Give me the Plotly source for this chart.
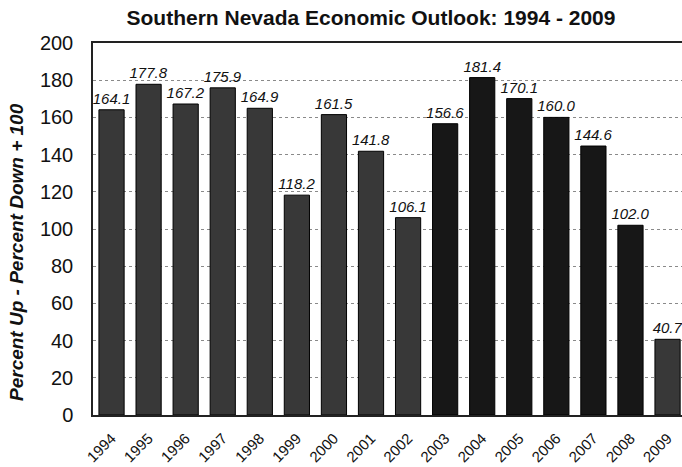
import plotly.graph_objects as go

# Survey index by year (percent up - percent down + 100)
years = ["1994", "1995", "1996", "1997", "1998", "1999", "2000", "2001",
         "2002", "2003", "2004", "2005", "2006", "2007", "2008", "2009"]
index_values = [164.1, 177.8, 167.2, 175.9, 164.9, 118.2, 161.5, 141.8,
                106.1, 156.6, 181.4, 170.1, 160.0, 144.6, 102.0, 40.7]
y_ticks = [0, 20, 40, 60, 80, 100, 120, 140, 160, 180, 200]

bar_colors = ["#383838"] * 9 + ["#171717"] * 6 + ["#383838"]

fig = go.Figure()
fig.add_trace(go.Bar(
    x=years,
    y=index_values,
    marker=dict(color=bar_colors, line=dict(color="#000000", width=1)),
    text=[f"{v:.1f}" for v in index_values],
    textposition="outside",
    constraintext="none",
    textfont=dict(family="Arial, Liberation Sans, sans-serif", size=15,
                  color="#111111", style="italic"),
    cliponaxis=False,
    width=0.68,
))

fig.add_annotation(
    text="<b><i>Percent Up - Percent Down + 100</i></b>",
    xref="paper", yref="paper",
    x=-76 / 589, y=(415 - 252) / 372,
    xanchor="center", yanchor="middle",
    textangle=-90, showarrow=False,
    font=dict(size=19, family="Arial, Liberation Sans, sans-serif", color="#111111"),
)

fig.update_layout(
    width=682,
    height=467,
    margin=dict(l=93, r=0, t=43, b=52, autoexpand=False),
    paper_bgcolor="white",
    plot_bgcolor="white",
    showlegend=False,
    font=dict(family="Arial, Liberation Sans, sans-serif", color="#111111"),
    title=dict(
        text="<b>Southern Nevada Economic Outlook: 1994 - 2009</b>",
        x=371 / 682, xanchor="center", y=1 - 18 / 467, yanchor="middle",
        font=dict(size=21, family="Arial, Liberation Sans, sans-serif"),
    ),
    xaxis=dict(
        type="category",
        range=[-0.5, 15.39],
        tickangle=-45,
        tickfont=dict(size=15),
        showline=True, mirror=True, linecolor="#222222", linewidth=1.5,
        showgrid=False, automargin=False,
        ticks="", ticklabelstandoff=7,
    ),
    yaxis=dict(
        range=[0, 200],
        tickvals=y_ticks,
        tickfont=dict(size=20),
        showline=True, linecolor="#222222", linewidth=1.5,
        showgrid=True, gridcolor="#8a8a8a", griddash="dot", gridwidth=1,
        zeroline=False, automargin=False,
        ticks="", ticklabelstandoff=14,
    ),
)

fig.write_html("out.html")
